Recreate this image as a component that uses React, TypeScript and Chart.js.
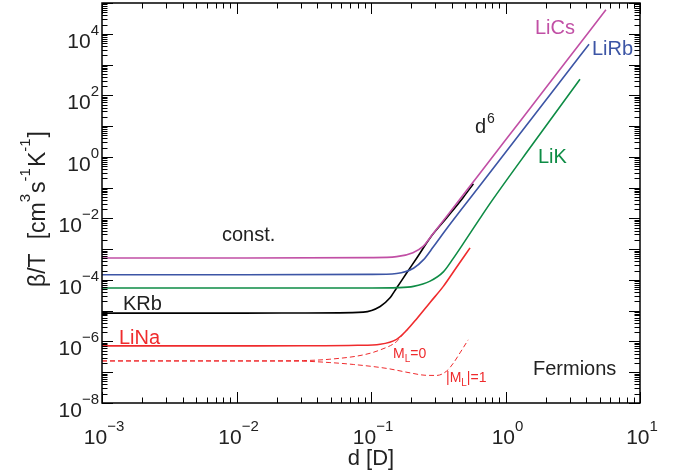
import React, { useEffect, useRef } from 'react';
import { Chart, registerables } from 'chart.js';

Chart.register(...registerables);

// Axis ranges and tick decades
const X_MIN = 1e-3;
const X_MAX = 10;
const Y_MIN = 1e-8;
const Y_MAX = 1e5;
const xTickExps = [-3, -2, -1, 0, 1];
const yTickExps = [-8, -6, -4, -2, 0, 2, 4];

// LiCs
const licsD = [0.001, 0.01, 0.1, 0.155, 0.205, 0.244, 0.289, 0.366, 0.646, 1.259, 2.512, 5.58];
const licsB = [5.16e-4, 5.16e-4, 5.31e-4, 5.7e-4, 7.69e-4, 1.23e-3, 3.16e-3, 1.17e-2, 0.294, 12.9, 647, 6.01e4];
// LiRb
const lirbD = [0.001, 0.01, 0.1, 0.155, 0.207, 0.245, 0.29, 0.366, 0.646, 1.259, 2.512, 4.18];
const lirbB = [1.48e-4, 1.48e-4, 1.51e-4, 1.62e-4, 2.4e-4, 4.47e-4, 1.17e-3, 4.68e-3, 0.117, 5.13, 257, 4.57e3];
// LiK
const likD = [0.001, 0.01, 0.1, 0.158, 0.207, 0.275, 0.345, 0.409, 0.485, 0.646, 0.789, 1.585, 3.58];
const likB = [5.45e-5, 5.45e-5, 5.47e-5, 5.6e-5, 6.17e-5, 9.12e-5, 1.82e-4, 5.01e-4, 1.51e-3, 1.0e-2, 3.63e-2, 2.51, 332];
// KRb
const krbD = [0.001, 0.01, 0.0316, 0.0877, 0.117, 0.138, 0.155, 0.184, 0.219, 0.275, 0.366, 0.485, 0.577];
const krbB = [8.36e-6, 8.36e-6, 8.41e-6, 8.99e-6, 1.37e-5, 2.57e-5, 5.45e-5, 1.68e-4, 5.16e-4, 2.32e-3, 1.05e-2, 4.8e-2, 0.133];
// LiNa
const linaD = [0.001, 0.01, 0.0316, 0.0794, 0.117, 0.155, 0.184, 0.219, 0.275, 0.345, 0.434, 0.545];
const linaB = [7.19e-7, 7.19e-7, 7.24e-7, 7.5e-7, 8.13e-7, 1.17e-6, 2.29e-6, 5.5e-6, 1.86e-5, 6.17e-5, 2.63e-4, 1.1e-3];
// Fermions, M_L = 0
const ml0D = [0.001, 0.01, 0.0316, 0.0495, 0.0877, 0.117, 0.155, 0.174];
const ml0B = [2.33e-7, 2.34e-7, 2.4e-7, 2.65e-7, 3.66e-7, 5.32e-7, 9.93e-7, 1.78e-6];
// Fermions, |M_L| = 1
const ml1D = [0.001, 0.0296, 0.0495, 0.0738, 0.131, 0.195, 0.252, 0.308, 0.366, 0.409, 0.459, 0.528];
const ml1B = [2.33e-7, 2.29e-7, 2.06e-7, 1.79e-7, 1.33e-7, 9.55e-8, 7.98e-8, 7.87e-8, 1.1e-7, 1.96e-7, 4.26e-7, 1.13e-6];

const FONT = "'Liberation Sans', Arial, Helvetica, sans-serif";
const C_LICS = '#c14fa5';
const C_LIRB = '#3c55a5';
const C_LIK = '#0e8c45';
const C_RED = '#ef2b2d';

const zip = (d: number[], b: number[]) => d.map((x, i) => ({ x, y: b[i] }));

type Part = { t: string; size: number; dy: number; gap?: number };

function drawParts(ctx: CanvasRenderingContext2D, parts: Part[], x: number, y: number) {
  let cx = x;
  for (const p of parts) {
    ctx.font = `${p.size}px ${FONT}`;
    ctx.fillText(p.t, cx, y + p.dy);
    cx += ctx.measureText(p.t).width + (p.gap || 0);
  }
  return cx - x;
}

function partsWidth(ctx: CanvasRenderingContext2D, parts: Part[]) {
  let w = 0;
  for (const p of parts) {
    ctx.font = `${p.size}px ${FONT}`;
    w += ctx.measureText(p.t).width + (p.gap || 0);
  }
  return w;
}

const powParts = (e: number): Part[] => [
  { t: '10', size: 21, dy: 0 },
  { t: String(e).replace('-', '\u2212'), size: 15, dy: -13 },
];

const decor = {
  id: 'decor',
  afterDraw(chart: any) {
    const ctx: CanvasRenderingContext2D = chart.ctx;
    const { left, right, top, bottom } = chart.chartArea;
    const xs = chart.scales.x;
    const ys = chart.scales.y;
    ctx.save();
    ctx.strokeStyle = '#000';
    ctx.fillStyle = '#000';
    // ticks
    ctx.lineWidth = 1;
    ctx.beginPath();
    for (let e = xTickExps[0]; e <= xTickExps[xTickExps.length - 1]; e++) {
      for (let k = 1; k <= 9; k++) {
        const v = k * Math.pow(10, e);
        if (v > X_MAX * 1.0001) break;
        const px = Math.round(xs.getPixelForValue(v)) + 0.5;
        const len = k === 1 ? 11 : 5.5;
        ctx.moveTo(px, bottom);
        ctx.lineTo(px, bottom - len);
        ctx.moveTo(px, top);
        ctx.lineTo(px, top + len);
      }
    }
    for (let e = yTickExps[0]; e <= 5; e++) {
      for (let k = 1; k <= 9; k++) {
        const v = k * Math.pow(10, e);
        if (v > Y_MAX * 1.0001) break;
        const py = Math.round(ys.getPixelForValue(v)) + 0.5;
        const len = k === 1 ? 11 : 5.5;
        ctx.moveTo(left, py);
        ctx.lineTo(left + len, py);
        ctx.moveTo(right, py);
        ctx.lineTo(right - len, py);
      }
    }
    ctx.stroke();
    // frame
    ctx.lineWidth = 1.5;
    ctx.strokeRect(left, top, right - left, bottom - top);

    ctx.fillStyle = '#222';
    ctx.textBaseline = 'alphabetic';
    ctx.textAlign = 'left';
    // x tick labels
    for (const e of xTickExps) {
      const px = xs.getPixelForValue(Math.pow(10, e));
      const parts = powParts(e);
      const w = partsWidth(ctx, parts);
      drawParts(ctx, parts, px + 2 - w / 2, bottom + 41);
    }
    // y tick labels
    for (const e of yTickExps) {
      const py = ys.getPixelForValue(Math.pow(10, e));
      const parts = powParts(e);
      const w = partsWidth(ctx, parts);
      drawParts(ctx, parts, left - 3 - w, py + 14);
    }
    // x title
    ctx.font = `22px ${FONT}`;
    ctx.textAlign = 'center';
    ctx.fillText('d [D]', (left + right) / 2, 465);
    ctx.textAlign = 'left';
    // y title (rotated)
    ctx.save();
    ctx.translate(45, 287);
    ctx.rotate(-Math.PI / 2);
    drawParts(
      ctx,
      [
        { t: '\u03b2/T', size: 23, dy: 0, gap: 14 },
        { t: '[cm', size: 23, dy: 0 },
        { t: '3', size: 15, dy: -15, gap: 1 },
        { t: 's', size: 23, dy: 0 },
        { t: '-1', size: 15, dy: -15, gap: 1 },
        { t: 'K', size: 23, dy: 0 },
        { t: '-1', size: 15, dy: -15, gap: 1 },
        { t: ']', size: 23, dy: 0 },
      ],
      0,
      0
    );
    ctx.restore();

    // annotations
    const lab = (t: string, x: number, y: number, color: string, size = 20) => {
      ctx.fillStyle = color;
      ctx.font = `${size}px ${FONT}`;
      ctx.fillText(t, x, y);
    };
    lab('LiCs', 535, 34, C_LICS);
    lab('LiRb', 592, 55, C_LIRB);
    lab('LiK', 538, 163, C_LIK);
    ctx.fillStyle = '#222';
    drawParts(ctx, [{ t: 'd', size: 20, dy: 0, gap: 1 }, { t: '6', size: 14, dy: -10 }], 475, 133);
    lab('const.', 222, 241, '#222');
    lab('KRb', 123, 310, '#222');
    lab('LiNa', 119, 344, C_RED);
    lab('Fermions', 533, 375, '#222');
    ctx.fillStyle = C_RED;
    drawParts(
      ctx,
      [
        { t: 'M', size: 14, dy: 0 },
        { t: 'L', size: 10, dy: 4 },
        { t: '=0', size: 14, dy: 0 },
      ],
      393,
      358
    );
    drawParts(
      ctx,
      [
        { t: '|M', size: 14, dy: 0 },
        { t: 'L', size: 10, dy: 4 },
        { t: '|=1', size: 14, dy: 0 },
      ],
      446,
      382
    );
    ctx.restore();
  },
};

export default function App() {
  const ref = useRef<HTMLCanvasElement | null>(null);
  useEffect(() => {
    if (!ref.current) return;
    const solid = (data: any, color: string) => ({
      data,
      borderColor: color,
      borderWidth: 1.6,
      pointRadius: 0,
      fill: false,
      cubicInterpolationMode: 'monotone' as const,
    });
    const chart = new Chart(ref.current, {
      type: 'line',
      data: {
        datasets: [
          solid(zip(licsD, licsB), C_LICS),
          solid(zip(lirbD, lirbB), C_LIRB),
          solid(zip(likD, likB), C_LIK),
          solid(zip(krbD, krbB), '#000'),
          solid(zip(linaD, linaB), C_RED),
          { ...solid(zip(ml0D, ml0B), C_RED), borderWidth: 1, borderDash: [5, 3] },
          { ...solid(zip(ml1D, ml1B), C_RED), borderWidth: 1, borderDash: [5, 3] },
        ],
      },
      options: {
        responsive: false,
        animation: false,
        events: [],
        layout: { padding: { left: 102, top: 3, right: 49, bottom: 69 } },
        plugins: { legend: { display: false }, tooltip: { enabled: false } },
        scales: {
          x: { type: 'logarithmic', min: X_MIN, max: X_MAX, display: false },
          y: { type: 'logarithmic', min: Y_MIN, max: Y_MAX, display: false },
        },
      },
      plugins: [decor],
    });
    return () => chart.destroy();
  }, []);
  return (
    <div style={{ position: 'fixed', left: 0, top: 0, width: 689, height: 472, background: '#fff' }}>
      <canvas ref={ref} width={689} height={472} style={{ display: 'block' }} />
    </div>
  );
}
